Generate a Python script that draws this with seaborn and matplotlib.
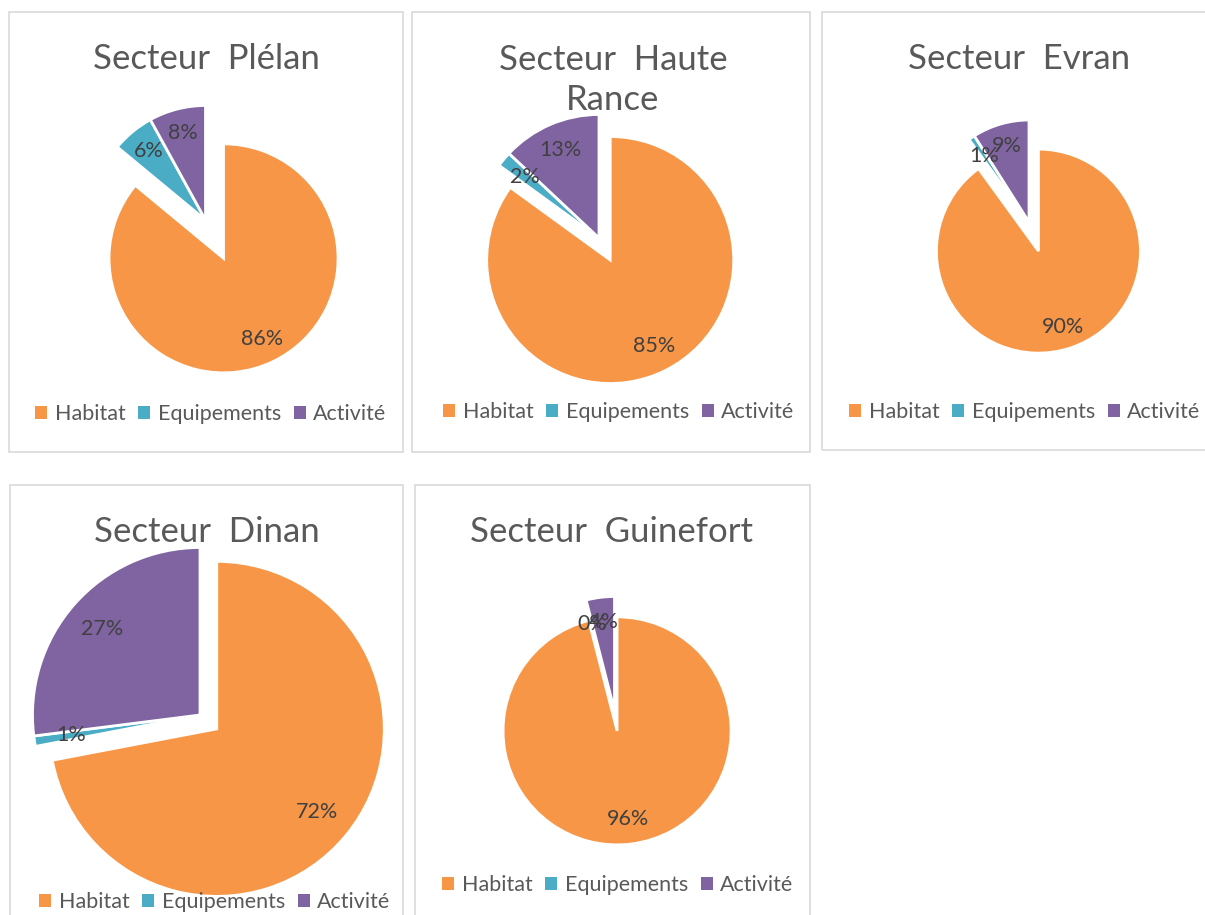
import numpy as np
import matplotlib
matplotlib.use('Agg')
import matplotlib.pyplot as plt
from matplotlib.patches import Rectangle, Patch
import seaborn as sns

# Data (percentages)
sectors = ['Secteur  Plélan', 'Secteur  Haute\nRance', 'Secteur  Evran',
           'Secteur  Dinan', 'Secteur  Guinefort']
categories = ['Habitat', 'Equipements', 'Activité']
habitat = [86, 85, 90, 72, 96]
equipements = [6, 2, 1, 1, 0]
activite = [8, 13, 9, 27, 4]

# Layout in pixels (reference image 1205x915)
W, H = 1205, 915
boxes = [(9, 12, 403, 452), (412, 12, 810, 452), (822, 12, 1215, 450),
         (10, 485, 403, 925), (415, 485, 810, 925)]
pie_centers = [(205.5, 220), (599, 238), (1029, 222), (200, 715), (614.5, 710.5)]
pie_radius = [114.5, 123.5, 102, 167.5, 114]
habitat_explode = [0.37, 0.20, 0.30, 0.13, 0.18]
title_pos = [(206, 59), (613, 80), (1019, 59), (207, 532), (612, 532)]
legend_pos = [(211, 414), (619, 412), (1025, 412), (215, 902), (618, 885)]

sns.set_theme(style='white')
plt.rcParams['font.family'] = ['Lato', 'DejaVu Sans']
colors = sns.color_palette(['#F79646', '#4BACC6', '#8064A2'])

fig = plt.figure(figsize=(W / 100, H / 100), dpi=100)
fig.patch.set_facecolor('white')

for i, name in enumerate(sectors):
    x0, y0, x1, y1 = boxes[i]
    fig.add_artist(Rectangle((x0 / W, 1 - y1 / H), (x1 - x0) / W, (y1 - y0) / H,
                             transform=fig.transFigure, fill=False,
                             edgecolor='#D9D9D9', linewidth=1.2))

    cx, cy = pie_centers[i]
    r = pie_radius[i]
    k = 1.6
    ax = fig.add_axes([(cx - k * r) / W, 1 - (cy + k * r) / H, 2 * k * r / W, 2 * k * r / H])
    vals = [habitat[i], equipements[i], activite[i]]
    wedges, texts, autotexts = ax.pie(
        vals, colors=colors, startangle=90, counterclock=False,
        explode=[habitat_explode[i], 0, 0], radius=1,
        autopct='%1.0f%%', pctdistance=0.78,
        wedgeprops=dict(edgecolor='white', linewidth=2),
        textprops=dict(color='#404040', fontsize=15.5))
    ax.set_xlim(-k, k)
    ax.set_ylim(-k, k)
    ax.set_aspect('equal')
    ax.axis('off')
    for w in wedges:
        w.set_clip_on(False)

    tx, ty = title_pos[i]
    fig.text(tx / W, 1 - ty / H, name, ha='center', va='center', fontsize=25,
             color='#595959', linespacing=1.32)

    handles = [Patch(facecolor=c, edgecolor='none') for c in colors]
    lx, ly = legend_pos[i]
    leg = ax.legend(handles, categories, loc='center', ncol=3, frameon=False,
                    bbox_to_anchor=(lx / W, 1 - ly / H), bbox_transform=fig.transFigure,
                    fontsize=15.5, handlelength=0.55, handleheight=0.55,
                    handletextpad=0.35, columnspacing=0.6, borderpad=0)
    for t in leg.get_texts():
        t.set_color('#595959')

fig.savefig('out.png', dpi=100, facecolor='white')
